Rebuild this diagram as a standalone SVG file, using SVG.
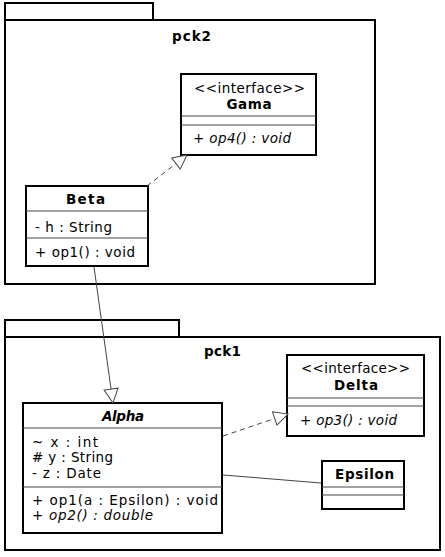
<svg xmlns="http://www.w3.org/2000/svg" width="445" height="557" viewBox="0 0 445 557">
<style>
text{font-family:"DejaVu Sans",sans-serif;font-size:13.5px;fill:#000}
.b{font-weight:bold}
.i{font-style:italic}
.c{text-anchor:middle}
.box{fill:#fff;stroke:#000;stroke-width:2}
.sep{stroke:#444;stroke-width:1}
.conn{fill:none;stroke:#444;stroke-width:1}
.dash{stroke-dasharray:5,4}
</style>
<defs>
<marker id="tri" markerUnits="userSpaceOnUse" markerWidth="18" markerHeight="18" refX="15" refY="8" orient="auto" viewBox="0 0 18 18">
<path d="M1,1 L15,8 L1,15 z" fill="#fff" stroke="#444" stroke-width="1"/>
</marker>
</defs>
<g id="pck2">
<rect class="box" x="5" y="3" width="148" height="17"/>
<rect class="box" x="5" y="20" width="370" height="264"/>
<text class="b c" x="191.5" y="41" textLength="39" lengthAdjust="spacing">pck2</text>
</g>
<g id="pck1">
<rect class="box" x="5" y="320" width="174" height="17"/>
<rect class="box" x="5" y="337" width="435" height="213"/>
<text class="b c" x="222.5" y="356" textLength="37" lengthAdjust="spacing">pck1</text>
</g>
<g id="Gama">
<rect class="box" x="181" y="74" width="135" height="81"/>
<line class="sep" x1="181" y1="116" x2="316" y2="116"/>
<line class="sep" x1="181" y1="125" x2="316" y2="125"/>
<text class="c" x="249.5" y="93" textLength="111" lengthAdjust="spacing">&lt;&lt;interface&gt;&gt;</text>
<text class="b c" x="249" y="109" textLength="45" lengthAdjust="spacing">Gama</text>
<text x="193" y="143" textLength="98" lengthAdjust="spacing"><tspan>+ </tspan><tspan class="i">op4() : void</tspan></text>
</g>
<g id="Beta">
<rect class="box" x="26" y="186" width="122" height="80"/>
<line class="sep" x1="26" y1="211" x2="148" y2="211"/>
<line class="sep" x1="26" y1="238" x2="148" y2="238"/>
<text class="b c" x="85.5" y="204" textLength="39" lengthAdjust="spacing">Beta</text>
<text x="35" y="232" textLength="77" lengthAdjust="spacing">- h : String</text>
<text x="35" y="257" textLength="100" lengthAdjust="spacing">+ op1() : void</text>
</g>
<g id="Delta">
<rect class="box" x="287" y="355" width="137" height="81"/>
<line class="sep" x1="287" y1="398" x2="424" y2="398"/>
<line class="sep" x1="287" y1="406" x2="424" y2="406"/>
<text class="c" x="355.5" y="373" textLength="109" lengthAdjust="spacing">&lt;&lt;interface&gt;&gt;</text>
<text class="b c" x="356" y="390" textLength="44" lengthAdjust="spacing">Delta</text>
<text x="300" y="425" textLength="97" lengthAdjust="spacing"><tspan>+ </tspan><tspan class="i">op3() : void</tspan></text>
</g>
<g id="Alpha">
<rect class="box" x="23" y="403" width="199" height="130"/>
<line class="sep" x1="23" y1="428" x2="222" y2="428"/>
<line class="sep" x1="23" y1="487" x2="222" y2="487"/>
<text class="b i c" x="123" y="421" textLength="42" lengthAdjust="spacing">Alpha</text>
<text x="32" y="447" textLength="66" lengthAdjust="spacing">~ x : int</text>
<text x="32" y="462" textLength="81" lengthAdjust="spacing"># y : String</text>
<text x="32" y="478" textLength="69" lengthAdjust="spacing">- z : Date</text>
<text x="32" y="505" textLength="186" lengthAdjust="spacing">+ op1(a : Epsilon) : void</text>
<text x="32" y="520" textLength="121" lengthAdjust="spacing"><tspan>+ </tspan><tspan class="i">op2() : double</tspan></text>
</g>
<g id="Epsilon">
<rect class="box" x="322" y="461" width="82" height="48"/>
<line class="sep" x1="322" y1="487" x2="404" y2="487"/>
<line class="sep" x1="322" y1="495" x2="404" y2="495"/>
<text class="b c" x="364.5" y="479" textLength="59" lengthAdjust="spacing">Epsilon</text>
</g>
<g id="connectors">
<line class="conn dash" x1="147" y1="186" x2="187" y2="155" marker-end="url(#tri)"/>
<line class="conn" x1="94" y1="267" x2="113" y2="403" marker-end="url(#tri)"/>
<line class="conn dash" x1="223" y1="436" x2="288" y2="414" marker-end="url(#tri)"/>
<line class="conn" x1="223" y1="475" x2="321" y2="483"/>
</g>
</svg>
